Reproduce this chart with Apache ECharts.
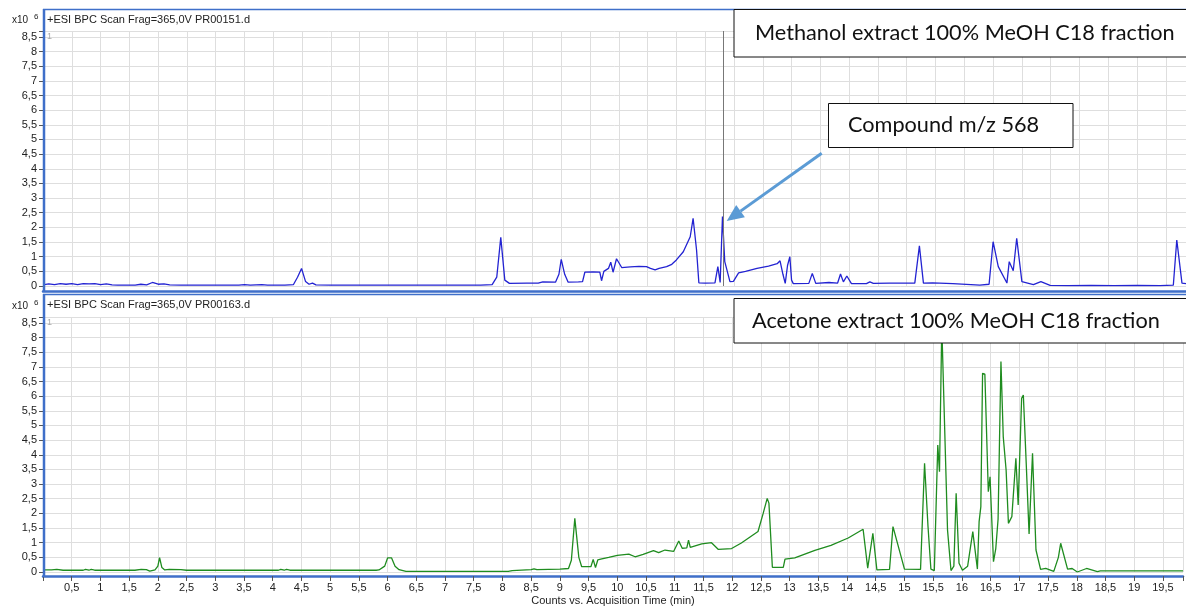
<!DOCTYPE html>
<html>
<head>
<meta charset="utf-8">
<script src="https://cdn.jsdelivr.net/npm/echarts@6/dist/echarts.min.js"></script>
<style>
  html, body { margin: 0; padding: 0; background: #fff; }
  #chart { width: 1186px; height: 607px; }
</style>
</head>
<body>
<div id="chart"></div>
<script>
// retention time (min) and counts (x10^6)
const meohTime = [0.02,0.1,0.2,0.3,0.4,0.5,0.6,0.7,0.8,0.9,1.0,1.1,1.2,1.3,1.6,1.7,1.8,1.9,2.0,2.1,2.2,2.4,3.0,3.4,3.5,3.6,3.8,3.9,4.2,4.35,4.42,4.49,4.56,4.62,4.68,4.74,5.0,6.0,7.0,7.6,7.8,7.88,7.95,8.02,8.1,8.4,8.6,8.68,8.9,8.96,9.0,9.06,9.12,9.3,9.37,9.41,9.55,9.67,9.70,9.74,9.82,9.86,9.9,9.96,10.05,10.2,10.35,10.48,10.55,10.63,10.7,10.83,10.92,11.0,11.12,11.24,11.29,11.35,11.39,11.5,11.67,11.72,11.76,11.80,11.84,11.87,11.93,11.99,12.08,12.2,12.4,12.6,12.75,12.8,12.85,12.89,12.93,12.97,13.0,13.03,13.3,13.36,13.42,13.65,13.8,13.85,13.9,13.96,14.04,14.3,14.36,14.42,14.7,15.14,15.22,15.29,15.45,15.8,16.27,16.43,16.5,16.59,16.74,16.78,16.8,16.85,16.91,17.0,17.2,17.33,17.49,17.8,18.2,18.6,19.0,19.4,19.63,19.69,19.78,19.85]
const meohCounts = [0.05,0.07,0.05,0.08,0.06,0.08,0.05,0.08,0.07,0.08,0.05,0.07,0.04,0.03,0.03,0.06,0.04,0.12,0.06,0.07,0.04,0.03,0.03,0.03,0.05,0.03,0.05,0.03,0.03,0.05,0.3,0.6,0.15,0.06,0.1,0.04,0.03,0.03,0.03,0.03,0.05,0.3,1.66,0.2,0.09,0.1,0.1,0.14,0.13,0.4,0.91,0.4,0.13,0.14,0.15,0.47,0.48,0.47,0.18,0.5,0.6,0.81,0.47,0.93,0.63,0.65,0.67,0.66,0.6,0.55,0.6,0.66,0.74,0.89,1.17,1.68,2.31,1.23,0.11,0.1,0.11,0.66,0.12,2.37,0.83,0.85,0.15,0.16,0.45,0.5,0.6,0.68,0.76,0.86,0.4,0.09,0.7,1.0,0.2,0.08,0.09,0.43,0.09,0.12,0.1,0.41,0.14,0.34,0.08,0.08,0.14,0.09,0.1,0.1,1.37,0.1,0.11,0.08,0.03,0.06,1.51,0.66,0.1,0.83,0.85,0.52,1.63,0.15,0.05,0.15,0.02,0.01,0.02,0.01,0.02,0.01,0.03,1.57,0.1,0.08]

const acetTime = [0.02,0.15,0.24,0.35,0.7,0.74,0.8,0.84,0.9,1.6,1.71,1.8,1.86,1.95,2.0,2.03,2.07,2.12,2.2,2.4,2.5,2.92,2.95,2.98,4.1,4.14,4.2,4.24,4.3,5.8,5.85,5.95,6.0,6.07,6.13,6.2,6.32,8.1,8.17,8.2,8.5,8.55,8.6,9.0,9.15,9.2,9.26,9.33,9.38,9.54,9.58,9.62,9.66,9.73,9.85,10.0,10.2,10.31,10.45,10.63,10.72,10.83,10.98,11.07,11.13,11.21,11.24,11.27,11.47,11.64,11.76,11.99,12.16,12.45,12.54,12.61,12.64,12.7,12.89,12.92,13.09,13.44,13.72,14.02,14.28,14.36,14.45,14.52,14.74,14.8,15.0,15.28,15.35,15.41,15.46,15.52,15.58,15.61,15.65,15.68,15.75,15.81,15.86,15.9,15.95,16.01,16.1,16.19,16.27,16.3,16.33,16.36,16.4,16.46,16.49,16.55,16.59,16.63,16.68,16.72,16.77,16.81,16.87,16.94,16.98,17.04,17.07,17.12,17.17,17.23,17.29,17.37,17.46,17.6,17.68,17.72,17.75,17.84,17.92,18.01,18.17,18.36,18.41,19.85]
const acetCounts = [0.07,0.07,0.09,0.06,0.06,0.09,0.06,0.09,0.06,0.06,0.09,0.08,0.03,0.07,0.2,0.49,0.15,0.07,0.09,0.08,0.06,0.06,0.09,0.06,0.06,0.09,0.06,0.09,0.06,0.06,0.07,0.2,0.48,0.48,0.2,0.08,0.02,0.02,0.05,0.03,0.08,0.11,0.08,0.1,0.12,0.4,1.83,0.5,0.18,0.18,0.43,0.15,0.41,0.45,0.5,0.57,0.61,0.52,0.6,0.73,0.66,0.75,0.7,1.06,0.81,0.82,1.09,0.84,0.96,1.0,0.77,0.8,0.99,1.38,2.0,2.51,2.35,0.16,0.16,0.44,0.48,0.74,0.91,1.16,1.46,0.13,1.32,0.07,0.09,1.55,0.1,0.09,3.71,1.55,0.1,0.05,4.33,3.42,8.4,8.4,1.43,0.05,0.2,2.69,0.3,0.06,0.2,1.38,0.1,1.72,2.23,6.78,6.75,2.74,3.25,0.35,0.8,1.8,7.18,4.62,3.48,1.66,1.89,3.88,2.29,5.93,6.04,3.71,1.3,4.05,0.75,0.09,0.12,0.02,0.5,0.98,0.98,0.1,0.12,0.0,0.12,0.01,0.04,0.04]

const cursorTime = 11.81
const panelTitles = ['+ESI BPC Scan Frag=365,0V PR00151.d', '+ESI BPC Scan Frag=365,0V PR00163.d']
const boxTexts = ['Methanol extract 100% MeOH C18 fraction', 'Compound m/z 568', 'Acetone extract 100% MeOH C18 fraction']

const pairs = (xs, ys) => xs.map((x, i) => [x, ys[i]])
const comma = v => String(v).replace('.', ',')
const frameBlue = '#3f6fc9'
const txt = '#222'
const font = 'Liberation Sans'
const boxFont = 'Lato'

function xAxisFor(idx, showLabels) {
  return {
    gridIndex: idx, type: 'value', min: 0, max: 19.85, interval: 0.5,
    offset: showLabels ? 4 : 5,
    axisLine: { show: true, onZero: false, lineStyle: { color: frameBlue, width: 2.5 } },
    axisTick: { show: showLabels, length: 5, lineStyle: { color: '#555' } },
    axisLabel: {
      show: showLabels, margin: 6, fontFamily: font, fontSize: 11, color: txt,
      formatter: v => (v === 0 || v > 19.6) ? '' : comma(v)
    },
    splitLine: { show: true, lineStyle: { color: '#dedede', width: 1 } },
    name: showLabels ? 'Counts vs. Acquisition Time (min)' : '',
    nameLocation: 'middle', nameGap: 19,
    nameTextStyle: { fontFamily: font, fontSize: 11, color: txt }
  }
}

function yAxisFor(idx) {
  return {
    gridIndex: idx, type: 'value', min: 0, max: 8.7, interval: 0.5,
    axisLine: { show: false, onZero: false },
    axisTick: { show: true, length: 4, lineStyle: { color: '#555' } },
    axisLabel: {
      margin: 6, fontFamily: font, fontSize: 11, color: txt,
      formatter: v => v > 8.55 ? '' : comma(v)
    },
    splitLine: { show: true, lineStyle: { color: '#dedede', width: 1 } }
  }
}

const chart = echarts.init(document.getElementById('chart'))

// arrow from the "Compound" box to the peak
const tip = [726.7, 221], tail = [821.7, 153.3]
const dx = tip[0] - tail[0], dy = tip[1] - tail[1], len = Math.hypot(dx, dy)
const ux = dx / len, uy = dy / len
const hb = [tip[0] - 17 * ux, tip[1] - 17 * uy]
const head = [tip, [hb[0] - 7.5 * uy, hb[1] + 7.5 * ux], [hb[0] + 7.5 * uy, hb[1] - 7.5 * ux]]

function box(x, y, w, h, text, tx) {
  return [
    { type: 'rect', z: 100, shape: { x: x, y: y, width: w, height: h },
      style: { fill: '#fff', stroke: '#111', lineWidth: 1 } },
    { type: 'text', z: 101, style: { x: tx, y: y + h / 2, text: text, fill: '#111',
      font: '21.7px ' + boxFont, textVerticalAlign: 'middle' } }
  ]
}

function exponent(y) {
  return [
    { type: 'text', z: 100, style: { x: 12, y: y, text: 'x10', fill: txt, font: '10px ' + font, textVerticalAlign: 'middle' } },
    { type: 'text', z: 100, style: { x: 34, y: y - 3, text: '6', fill: txt, font: '8px ' + font, textVerticalAlign: 'middle' } }
  ]
}

const option = {
  animation: false,
  backgroundColor: '#fff',
  grid: [
    { left: 43, right: 0, top: 31, height: 255 },
    { left: 43, right: 0, top: 317, height: 255 }
  ],
  xAxis: [xAxisFor(0, false), xAxisFor(1, true)],
  yAxis: [yAxisFor(0), yAxisFor(1)],
  series: [
    {
      type: 'line', xAxisIndex: 0, yAxisIndex: 0, data: pairs(meohTime, meohCounts),
      showSymbol: false, lineStyle: { color: '#2323d2', width: 1.3 },
      markLine: {
        silent: true, symbol: 'none', label: { show: false },
        lineStyle: { color: '#777', width: 1, type: 'solid' },
        data: [{ xAxis: cursorTime }]
      }
    },
    {
      type: 'line', xAxisIndex: 1, yAxisIndex: 1, data: pairs(acetTime, acetCounts),
      showSymbol: false, lineStyle: { color: '#1f8c1f', width: 1.3 }
    }
  ],
  graphic: [
    // panel frames
    { type: 'line', z: 90, shape: { x1: 43, y1: 9.5, x2: 1186, y2: 9.5 }, style: { stroke: frameBlue, lineWidth: 1.5 } },
    { type: 'line', z: 90, shape: { x1: 44, y1: 9, x2: 44, y2: 292 }, style: { stroke: frameBlue, lineWidth: 2.5 } },
    { type: 'line', z: 90, shape: { x1: 43, y1: 294.5, x2: 1186, y2: 294.5 }, style: { stroke: frameBlue, lineWidth: 1.5 } },
    { type: 'line', z: 90, shape: { x1: 44, y1: 294, x2: 44, y2: 577 }, style: { stroke: frameBlue, lineWidth: 2.5 } },
    // panel titles
    { type: 'text', z: 100, style: { x: 47, y: 20, text: panelTitles[0], fill: txt, font: '11px ' + font, textVerticalAlign: 'middle' } },
    { type: 'text', z: 100, style: { x: 47, y: 305, text: panelTitles[1], fill: txt, font: '11px ' + font, textVerticalAlign: 'middle' } },
    ...exponent(20), ...exponent(306),
    { type: 'text', z: 100, style: { x: 47, y: 37, text: '1', fill: '#aaa', font: '9px ' + font, textVerticalAlign: 'middle' } },
    { type: 'text', z: 100, style: { x: 47, y: 323, text: '1', fill: '#aaa', font: '9px ' + font, textVerticalAlign: 'middle' } },
    // annotation boxes
    ...box(734, 9.5, 470, 47.5, boxTexts[0], 755),
    ...box(828.5, 103.5, 244.5, 44, boxTexts[1], 848),
    { type: 'rect', z: 102, shape: { x: 829.5, y: 137.5, width: 242.5, height: 9 }, style: { fill: '#fff' } },
    ...box(734, 298.5, 470, 44.5, boxTexts[2], 752),
    // arrow
    { type: 'line', z: 100, shape: { x1: tail[0], y1: tail[1], x2: hb[0], y2: hb[1] }, style: { stroke: '#5b9bd5', lineWidth: 3 } },
    { type: 'polygon', z: 100, shape: { points: head }, style: { fill: '#5b9bd5' } }
  ]
}

chart.setOption(option)
</script>
</body>
</html>
